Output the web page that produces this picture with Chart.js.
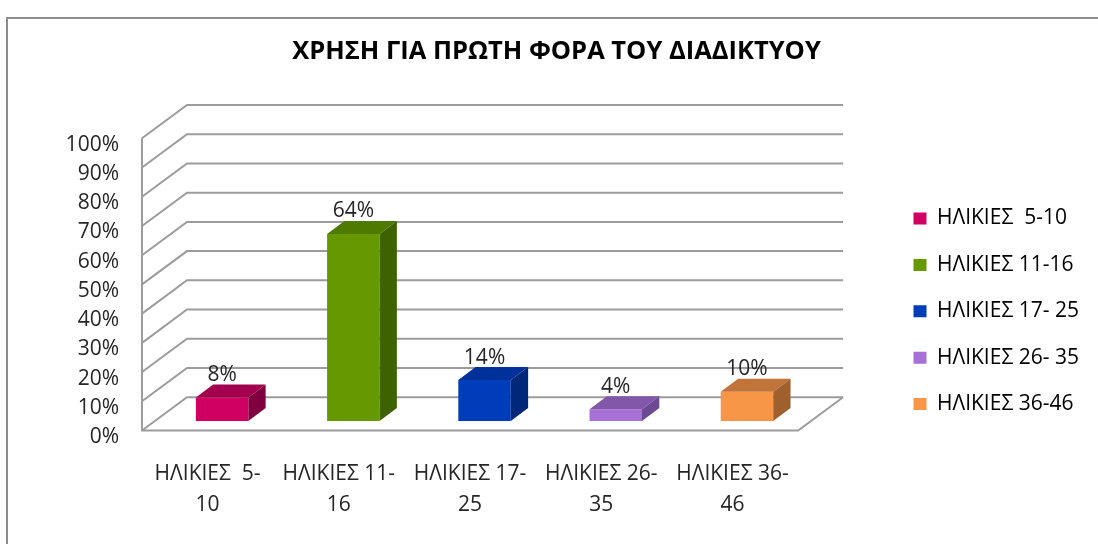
<!DOCTYPE html>
<html>
<head>
<meta charset="utf-8">
<script src="https://cdn.jsdelivr.net/npm/chart.js@4"></script>
<style>
  html, body { margin: 0; padding: 0; background: #fff; }
  #wrap { width: 1098px; height: 544px; }
</style>
</head>
<body>
<div id="wrap"><canvas id="myChart"></canvas></div>
<script>
const chartTitle = 'ΧΡΗΣΗ ΓΙΑ ΠΡΩΤΗ ΦΟΡΑ ΤΟΥ ΔΙΑΔΙΚΤΥΟΥ';

// axis labels wrap after the hyphen, legend keeps them on one line
const categories = [
  ['ΗΛΙΚΙΕΣ  5-', '10'],
  ['ΗΛΙΚΙΕΣ 11-', '16'],
  ['ΗΛΙΚΙΕΣ 17-', '25'],
  ['ΗΛΙΚΙΕΣ 26-', '35'],
  ['ΗΛΙΚΙΕΣ 36-', '46'],
];
const legendLabels = [
  'ΗΛΙΚΙΕΣ  5-10',
  'ΗΛΙΚΙΕΣ 11-16',
  'ΗΛΙΚΙΕΣ 17- 25',
  'ΗΛΙΚΙΕΣ 26- 35',
  'ΗΛΙΚΙΕΣ 36-46',
];
const values = [8, 64, 14, 4, 10];
const yTickValues = [0, 10, 20, 30, 40, 50, 60, 70, 80, 90, 100];

const frontColors = ['#CF0062', '#669900', '#003DBB', '#A670D6', '#F79646'];
const topColors = ['#A2004E', '#4F7A00', '#00309A', '#8257A9', '#C1743A'];
const sideColors = ['#80003F', '#3E6200', '#00287A', '#6C4993', '#A0602E'];

const textColor = '#262626';
const fontFamily = '"Open Sans", "Noto Sans", sans-serif';

// depth of the walls, offset of the bar row, depth of each bar
const WALL = { dx: 45, dy: -33.3 };
const BAR_SHIFT = { dx: 14.5, dy: -9.5 };
const BAR_DEPTH = { dx: 17.3, dy: -13 };

Chart.defaults.font.family = fontFamily;
Chart.defaults.font.size = 21;
Chart.defaults.color = textColor;

const box3d = {
  id: 'box3d',
  beforeDraw(chart) {
    const { ctx, width, height } = chart;
    ctx.save();
    ctx.fillStyle = '#fff';
    ctx.fillRect(0, 0, width, height);
    ctx.strokeStyle = '#8c8c8c';
    ctx.lineWidth = 2;
    ctx.beginPath();
    ctx.moveTo(7, height + 2);
    ctx.lineTo(7, 18);
    ctx.lineTo(width + 2, 18);
    ctx.stroke();
    ctx.restore();
  },
  beforeDatasetsDraw(chart) {
    const { ctx, chartArea: a, scales: { y } } = chart;
    ctx.save();
    ctx.strokeStyle = '#9c9c9c';
    ctx.lineWidth = 2;
    ctx.beginPath();
    y.ticks.forEach((t) => {
      const py = y.getPixelForValue(t.value);
      ctx.moveTo(a.left, py);
      ctx.lineTo(a.left + WALL.dx, py + WALL.dy);
      ctx.lineTo(a.right + WALL.dx, py + WALL.dy);
    });
    ctx.moveTo(a.left, a.top);
    ctx.lineTo(a.left, a.bottom);
    ctx.lineTo(a.right, a.bottom);
    ctx.lineTo(a.right + WALL.dx, a.bottom + WALL.dy);
    ctx.stroke();
    ctx.restore();

    // bars stand in the middle of the box depth
    ctx.save();
    ctx.translate(BAR_SHIFT.dx, BAR_SHIFT.dy);
  },
  afterDatasetsDraw(chart) {
    const { ctx } = chart;
    const data = chart.data.datasets[0].data;
    const meta = chart.getDatasetMeta(0);
    meta.data.forEach((bar, i) => {
      const { x, y, base, width } = bar.getProps(['x', 'y', 'base', 'width'], true);
      const l = x - width / 2;
      const r = x + width / 2;
      const { dx, dy } = BAR_DEPTH;

      ctx.fillStyle = topColors[i];
      ctx.beginPath();
      ctx.moveTo(l, y);
      ctx.lineTo(l + dx, y + dy);
      ctx.lineTo(r + dx, y + dy);
      ctx.lineTo(r, y);
      ctx.closePath();
      ctx.fill();

      ctx.fillStyle = sideColors[i];
      ctx.beginPath();
      ctx.moveTo(r, y);
      ctx.lineTo(r + dx, y + dy);
      ctx.lineTo(r + dx, base + dy);
      ctx.lineTo(r, base);
      ctx.closePath();
      ctx.fill();

      ctx.fillStyle = textColor;
      ctx.font = '21px ' + fontFamily;
      ctx.textAlign = 'center';
      ctx.textBaseline = 'middle';
      ctx.fillText(data[i] + '%', x, y - 22.5);
    });
    ctx.restore();
  },
  afterLayout(chart) {
    // nudge the legend column next to the back wall
    chart.legend.left -= 9;
    chart.legend.right -= 9;
    chart.legend.top += 9.5;
    chart.legend.bottom += 9.5;
  },
};

const ctx = document.getElementById('myChart');

new Chart(ctx, {
  type: 'bar',
  data: {
    labels: categories,
    datasets: [
      {
        label: chartTitle,
        data: values,
        backgroundColor: frontColors,
        borderWidth: 0,
        barPercentage: 0.4,
        categoryPercentage: 1,
        clip: false,
      },
    ],
  },
  options: {
    responsive: true,
    maintainAspectRatio: false,
    animation: false,
    events: [],
    layout: { padding: { left: 15, right: 0, top: 0, bottom: 0 } },
    plugins: {
      title: {
        display: true,
        text: chartTitle,
        color: '#000',
        font: { size: 25.5, weight: 'bold', lineHeight: 1.2 },
        padding: { top: 36, bottom: 71.7 },
      },
      legend: {
        position: 'right',
        align: 'end',
        fullSize: false,
        maxWidth: 209.4,
        labels: {
          boxWidth: 13,
          boxHeight: 12,
          padding: 25.4,
          font: { size: 21 },
          color: textColor,
          generateLabels: () =>
            legendLabels.map((text, i) => ({
              text,
              fillStyle: frontColors[i],
              strokeStyle: frontColors[i],
              lineWidth: 0,
              hidden: false,
              index: i,
            })),
        },
      },
      tooltip: { enabled: false },
    },
    scales: {
      x: {
        grid: { display: false, drawTicks: false },
        border: { display: false },
        ticks: {
          maxRotation: 0,
          autoSkip: false,
          padding: 28,
          font: { size: 21, lineHeight: 1.48 },
          color: textColor,
        },
        afterFit: (s) => { s.height = 113.5; },
      },
      y: {
        min: 0,
        max: 100,
        grid: { display: false, drawTicks: false },
        border: { display: false },
        afterBuildTicks: (s) => { s.ticks = yTickValues.map((v) => ({ value: v })); },
        ticks: {
          padding: 23,
          labelOffset: 6.5,
          color: textColor,
          callback: (v) => v + '%',
        },
        afterFit: (s) => { s.width = 127; },
      },
      yRight: {
        type: 'linear',
        position: 'right',
        grid: { display: false, drawTicks: false },
        border: { display: false },
        ticks: { display: false },
        afterFit: (s) => { s.width = 99; },
      },
    },
  },
  plugins: [box3d],
});
</script>
</body>
</html>
